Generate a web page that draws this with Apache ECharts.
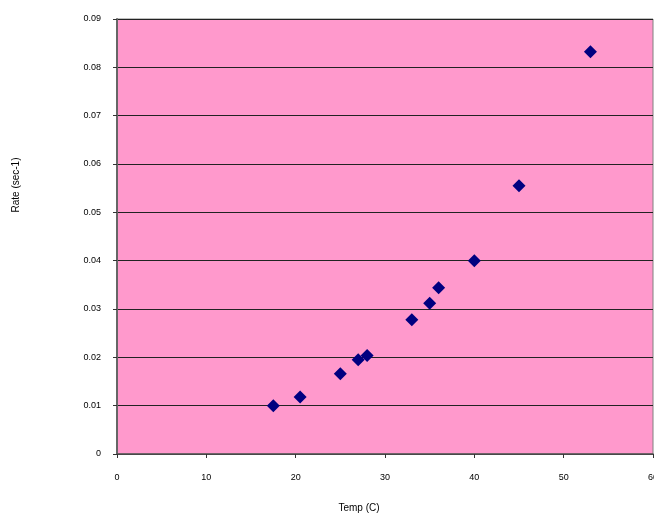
<!DOCTYPE html>
<html>
<head>
<meta charset="utf-8">
<script src="https://cdn.jsdelivr.net/npm/echarts@6/dist/echarts.min.js"></script>
<style>html,body{margin:0;padding:0;background:#fff;}#c{width:654px;height:513px;}</style>
</head>
<body>
<div id="c"></div>
<script>
const tempC = [17.5, 20.5, 25, 27, 28, 33, 35, 36, 40, 45, 53];
const rate  = [0.0100, 0.0118, 0.0166, 0.0195, 0.0204, 0.0278, 0.0312, 0.0344, 0.0400, 0.0555, 0.0832];
const xTicks = [0, 10, 20, 30, 40, 50, 60];
const yTicks = [0, 0.01, 0.02, 0.03, 0.04, 0.05, 0.06, 0.07, 0.08, 0.09];
const xTitle = 'Temp (C)';
const yTitle = 'Rate (sec-1)';

const points = tempC.map((t, i) => [t, rate[i]]);
const chart = echarts.init(document.getElementById('c'), null, {renderer: 'canvas'});
const font = 'Liberation Sans, Arial, sans-serif';
chart.setOption({
  animation: false,
  grid: {left: 117, top: 19, right: 1, bottom: 59, containLabel: false, outerBoundsMode: 'none', show: true, backgroundColor: '#FF99CC', borderColor: '#808080', borderWidth: 1},
  xAxis: {
    type: 'value', min: xTicks[0], max: xTicks[xTicks.length - 1], interval: 10,
    axisLine: {show: true, lineStyle: {color: '#555', width: 1.5}},
    axisTick: {show: true, length: 4, lineStyle: {color: '#333'}},
    axisLabel: {margin: 19, fontSize: 9, color: '#000', fontFamily: font, showMaxLabel: true, hideOverlap: false},
    splitLine: {show: false}
  },
  yAxis: {
    type: 'value', min: yTicks[0], max: yTicks[yTicks.length - 1], interval: 0.01,
    axisLine: {show: true, lineStyle: {color: '#666', width: 2}},
    axisTick: {show: true, length: 4, lineStyle: {color: '#333'}},
    axisLabel: {margin: 16, fontSize: 9, color: '#000', fontFamily: font, formatter: v => v === 0 ? '0' : v.toFixed(2)},
    splitLine: {show: true, lineStyle: {color: '#222', width: 1}}
  },
  graphic: [
    {type: 'text', x: 359, y: 508, style: {text: xTitle, fontSize: 10, fill: '#000', fontFamily: font, align: 'center', verticalAlign: 'middle'}},
    {type: 'text', x: 16, y: 185, rotation: Math.PI / 2, style: {text: yTitle, fontSize: 10, fill: '#000', fontFamily: font, align: 'center', verticalAlign: 'middle'}}
  ],
  series: [{
    type: 'scatter', data: points, symbol: 'diamond', symbolSize: 13,
    itemStyle: {color: '#000080', opacity: 1}
  }]
});
</script>
</body>
</html>
